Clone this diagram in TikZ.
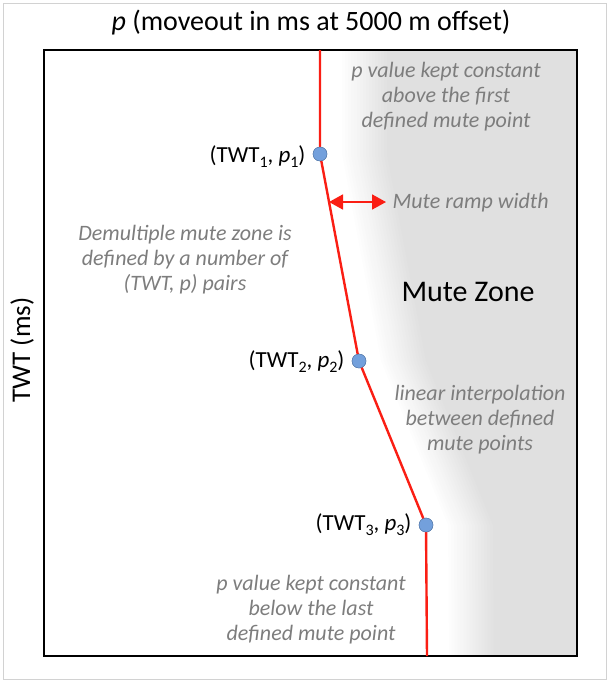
\documentclass[tikz,border=0pt]{standalone}
\usepackage{fontspec}
\setmainfont{Carlito}
\usetikzlibrary{arrows.meta}
\definecolor{mutered}{RGB}{250,30,20}
\definecolor{dotblue}{RGB}{115,160,220}
\definecolor{notegray}{RGB}{125,125,125}
\newcommand{\lowidx}[1]{\raisebox{-0.45ex}{\fontsize{16}{16}\selectfont #1}}
\begin{document}
\begin{tikzpicture}[
    x=1pt, y=-1pt,
    note/.style={font=\fontsize{22}{25}\selectfont\itshape, text=notegray, align=center},
    lbl/.style={font=\fontsize{23}{25}\selectfont, anchor=east},
    dot/.style={circle, fill=dotblue, draw=dotblue!75!black, line width=0.4pt,
                minimum size=14pt, inner sep=0pt},
    muteline/.style={mutered, line width=2.4pt},
  ]
  \useasboundingbox (0,0) rectangle (610,683);
  \draw[gray!35, line width=1pt] (3,3) rectangle (606,679);

  % mute zone with its ramp
  \foreach \i [evaluate=\i as \c using 12*(\i+1)/16,
               evaluate=\i as \d using 22+3*\i] in {0,...,15}
    \fill[black!\c] (320+\d,50) -- (320+\d,154) -- (359+\d,361) -- (426+\d,525)
      -- (427+\d,656) -- (577,656) -- (577,50) -- cycle;
  \draw[line width=1.8pt] (44,50) rectangle (577,656);

  \node (title) at (311,23) {\fontsize{28}{32}\selectfont\textit{p} (moveout in ms at 5000 m offset)};
  \node[rotate=90] (twtaxis) at (22,350) {\fontsize{27}{30}\selectfont TWT (ms)};

  % mute points
  \coordinate (top) at (320,50);
  \coordinate (bot) at (427,656);
  \node[dot] (p1) at (320,154) {};
  \node[dot] (p2) at (359,361) {};
  \node[dot] (p3) at (426,525) {};
  \draw[muteline] (top) -- (p1.center) -- (p2.center) -- (p3.center) -- (bot);
  \node[dot] at (p1) {};
  \node[dot] at (p2) {};
  \node[dot] at (p3) {};

  \node[lbl] (pt1lbl) at (309,157) {(TWT\lowidx{1}, \textit{p}\lowidx{1})};
  \node[lbl] (pt2lbl) at (348,362) {(TWT\lowidx{2}, \textit{p}\lowidx{2})};
  \node[lbl] (pt3lbl) at (415,525) {(TWT\lowidx{3}, \textit{p}\lowidx{3})};

  % ramp width
  \coordinate (rampL) at (329,202);
  \coordinate (rampR) at (386,202);
  \draw[mutered, line width=1.8pt,
        {Triangle[length=14pt,width=15pt]}-{Triangle[length=14pt,width=15pt]}]
    (rampL) -- (rampR);
  \node[note, anchor=west] (rampnote) at (389,203) {Mute ramp width};

  \node[note] (topnote) at (446,97) {p value kept constant\\above the first\\defined mute point};
  \node[note] (zonenote) at (185,260) {Demultiple mute zone is\\defined by a number of\\(TWT, p) pairs};
  \node (mutezone) at (468,292) {\fontsize{30}{34}\selectfont Mute Zone};
  \node[note] (interpnote) at (480,420) {linear interpolation\\between defined\\mute points};
  \node[note] (bottomnote) at (311,610) {p value kept constant\\below the last\\defined mute point};
\end{tikzpicture}
\end{document}
